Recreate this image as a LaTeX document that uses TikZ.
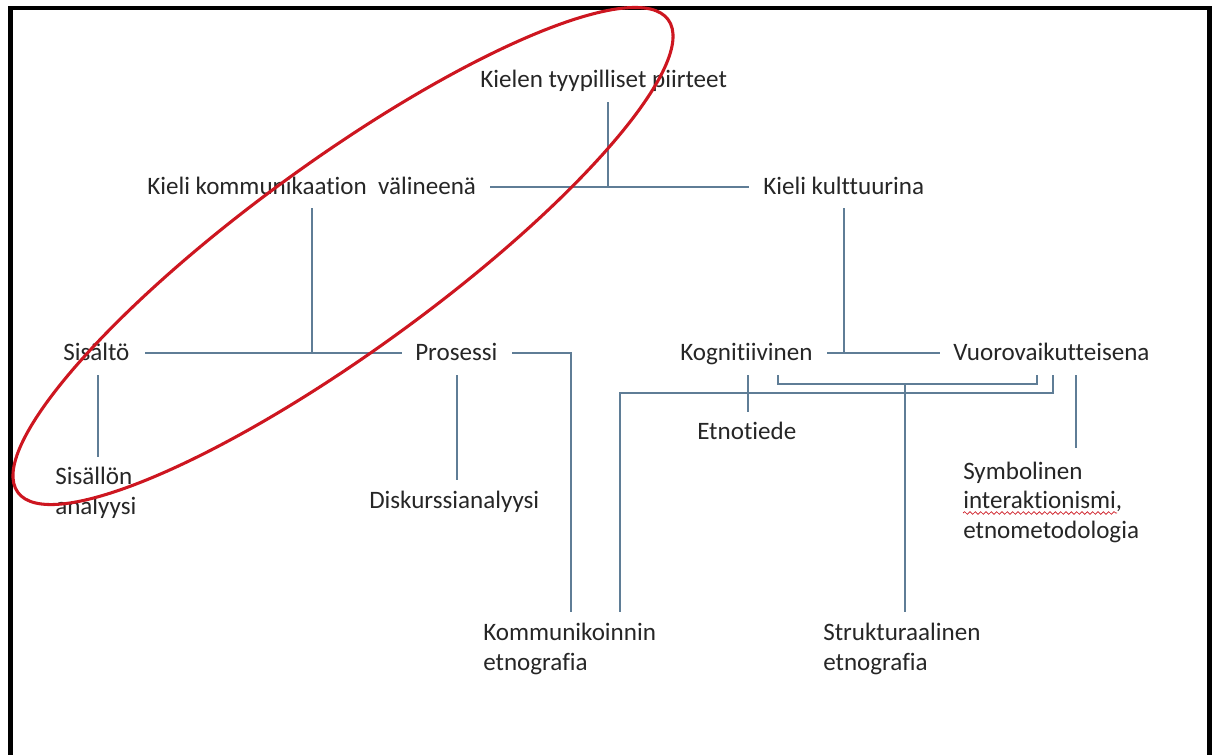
\documentclass[tikz,border=0pt]{standalone}
\usepackage{fontspec}
\setmainfont{Carlito}[Ligatures=NoCommon]
\usetikzlibrary{decorations.pathmorphing}
\definecolor{linegray}{RGB}{95,125,150}
\definecolor{txtgray}{RGB}{38,38,38}
\definecolor{ovalred}{RGB}{205,22,32}

\begin{document}
\begin{tikzpicture}[x=0.75pt,y=-0.75pt,
		lbl/.style={inner sep=0pt,anchor=base west,text=txtgray,font=\fontsize{18.8}{22}\selectfont},
		lbltwo/.style={lbl,align=left},
		conn/.style={draw=linegray,line width=0.8pt}]
		\useasboundingbox (0,0) rectangle (1216,754);
		
		% the frame, open at the bottom
		\draw[line width=3.2pt] (10.5,770) -- (10.5,8) -- (1209.5,8) -- (1209.5,770);
		
		% the labels (two-line ones sit on the baseline of their last line)
		\node[lbl] (kielen) at (480,87) {Kielen tyypilliset piirteet};
		\node[lbl] (kom) at (147,194) {Kieli kommunikaation~ välineenä};
		\node[lbl] (kult) at (763,194) {Kieli kulttuurina};
		\node[lbl] (sis) at (63,360) {Sisältö};
		\node[lbl] (pros) at (415,360) {Prosessi};
		\node[lbl] (kogn) at (680,360) {Kognitiivinen};
		\node[lbl] (vuoro) at (953,360) {Vuorovaikutteisena};
		\node[lbltwo] (sisan) at (55,514) {Sisällön\\analyysi};
		\node[lbl] (disk) at (369,508) {Diskurssianalyysi};
		\node[lbl] (etno) at (697,439) {Etnotiede};
		\node[lbltwo] (symb) at (963,538) {Symbolinen\\interaktionismi,\\etnometodologia};
		\node[lbltwo] (komet) at (483,670) {Kommunikoinnin\\etnografia};
		\node[lbltwo] (strukt) at (823,670) {Strukturaalinen\\etnografia};
		
		% points of the connectors
		\coordinate (c1) at (608,102);
		\coordinate (c2) at (608,187);
		\coordinate (c3) at (490,187);
		\coordinate (c4) at (749,187);
		\coordinate (c5) at (312,208);
		\coordinate (c6) at (312,353);
		\coordinate (c7) at (145,353);
		\coordinate (c8) at (402,353);
		\coordinate (c9) at (844,208);
		\coordinate (c10) at (844,353);
		\coordinate (c11) at (827,353);
		\coordinate (c12) at (940,353);
		\coordinate (c13) at (512,353);
		\coordinate (c14) at (571,612);
		\coordinate (c15) at (778,375);
		\coordinate (c16) at (1037,384);
		\coordinate (c17) at (905,384);
		\coordinate (c18) at (905,612);
		\coordinate (c19) at (1053,375);
		\coordinate (c20) at (620,393);
		\coordinate (c21) at (620,612);
		
		% the connectors
		\draw[conn] (c1) -- (c2);
		\draw[conn] (c3) -- (c4);
		\draw[conn] (c5) -- (c6);
		\draw[conn] (c7) -- (c8);
		\draw[conn] (c9) -- (c10);
		\draw[conn] (c11) -- (c12);
		\draw[conn] (98,375) -- (98,457);
		\draw[conn] (457,375) -- (457,480);
		\draw[conn] (c13) -| (c14);
		\draw[conn] (c15) |- (c16) -- (c16|-c15);
		\draw[conn] (c17) -- (c18);
		\draw[conn] (c19) |- (c20) -- (c21);
		\draw[conn] (748,375) -- (748,412);
		\draw[conn] (1076,375) -- (1076,448);
		
		% spelling mark under the second line
		\draw[ovalred,line width=0.5pt,decorate,decoration={snake,segment length=4,amplitude=1}] (963,513) -- (1117,513);
		
		% the red oval
		\coordinate (ov) at (343,256);
		\draw[ovalred,line width=2.3pt,rotate around={36:(ov)}] (ov) ellipse [x radius=402,y radius=95];
	\end{tikzpicture}
\end{document}
